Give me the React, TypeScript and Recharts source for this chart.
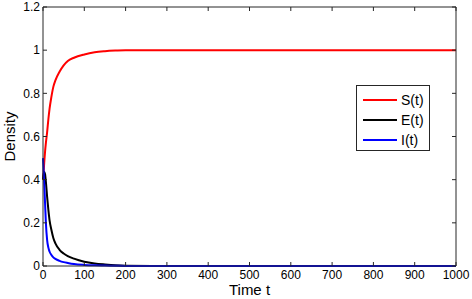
import React from 'react';
import { LineChart, Line, XAxis, YAxis, Legend } from 'recharts';

const timePoints = [0, 1, 2, 3, 5, 7, 10, 13, 16, 20, 25, 30, 40, 50, 60, 75, 100, 125, 150, 175, 200, 300, 400, 500, 600, 700, 800, 900, 1000];
const sValues = [0.40, 0.42, 0.45, 0.48, 0.53, 0.57, 0.62, 0.68, 0.73, 0.78, 0.83, 0.86, 0.90, 0.93, 0.95, 0.965, 0.98, 0.99, 0.995, 0.998, 1.0, 1.0, 1.0, 1.0, 1.0, 1.0, 1.0, 1.0, 1.0];
const eValues = [0.40, 0.42, 0.43, 0.435, 0.425, 0.39, 0.32, 0.26, 0.21, 0.17, 0.13, 0.105, 0.075, 0.058, 0.046, 0.034, 0.02, 0.012, 0.007, 0.003, 0.001, 0, 0, 0, 0, 0, 0, 0, 0];
const iValues = [0.50, 0.46, 0.42, 0.38, 0.29, 0.20, 0.12, 0.085, 0.066, 0.052, 0.04, 0.033, 0.024, 0.018, 0.014, 0.009, 0.005, 0.003, 0.002, 0.001, 0, 0, 0, 0, 0, 0, 0, 0, 0];

const xTicks = [0, 100, 200, 300, 400, 500, 600, 700, 800, 900, 1000];
const yTicks = [0, 0.2, 0.4, 0.6, 0.8, 1, 1.2];
const seriesKeys = ['S', 'E', 'I'];
const seriesNames = ['S(t)', 'E(t)', 'I(t)'];
const seriesColors = ['#ff0000', '#000000', '#0000ff'];

const data = timePoints.map((t, i) => ({ t, S: sValues[i], E: eValues[i], I: iValues[i] }));

const FONT = '"Liberation Sans", Arial, sans-serif';
const AXIS = '#262626';

const LegendBox = () => (
  <div
    style={{
      border: '1px solid #262626',
      background: '#fff',
      width: 72,
      height: 64,
      boxSizing: 'content-box',
      fontFamily: FONT,
      fontSize: 14,
      color: '#000',
      position: 'relative',
    }}
  >
    {seriesNames.map((name, i) => (
      <div
        key={name}
        style={{ position: 'absolute', left: 6, top: 4 + i * 20, height: 20, display: 'flex', alignItems: 'center' }}
      >
        <div style={{ width: 34, height: 2, background: seriesColors[i] }} />
        <span style={{ marginLeft: 4, lineHeight: '20px' }}>{name}</span>
      </div>
    ))}
  </div>
);

export default function App() {
  return (
    <div style={{ position: 'absolute', left: 0, top: 0, width: 472, height: 299, background: '#fff', fontFamily: FONT }}>
      <LineChart width={472} height={299} data={data} margin={{ top: 0, right: 0, bottom: 0, left: 0 }}>
        <XAxis
          dataKey="t"
          type="number"
          domain={[0, 1000]}
          ticks={xTicks}
          height={33}
          tickSize={-4}
          tickMargin={8}
          stroke={AXIS}
          tick={{ fill: '#000', fontSize: 12, fontFamily: FONT }}
          interval={0}
          label={{ value: 'Time t', position: 'insideBottom', offset: 4, fill: '#000', fontSize: 15, fontFamily: FONT }}
        />
        <XAxis
          xAxisId="top"
          orientation="top"
          dataKey="t"
          type="number"
          domain={[0, 1000]}
          ticks={xTicks}
          height={7}
          tickSize={-4}
          stroke={AXIS}
          tickFormatter={() => ''}
          interval={0}
          allowDataOverflow
        />
        <YAxis
          type="number"
          domain={[0, 1.2]}
          ticks={yTicks}
          width={43}
          tickSize={-4}
          tickMargin={7}
          stroke={AXIS}
          tick={{ fill: '#000', fontSize: 12, fontFamily: FONT }}
          interval={0}
          label={{
            value: 'Density',
            angle: -90,
            position: 'insideLeft',
            offset: 10,
            fill: '#000',
            fontSize: 15,
            fontFamily: FONT,
            style: { textAnchor: 'middle' },
          }}
        />
        <YAxis
          yAxisId="right"
          orientation="right"
          type="number"
          domain={[0, 1.2]}
          ticks={yTicks}
          width={16}
          tickSize={-4}
          stroke={AXIS}
          tickFormatter={() => ''}
          interval={0}
          allowDataOverflow
        />
        {seriesKeys.map((k, i) => (
          <Line
            key={k}
            dataKey={k}
            name={seriesNames[i]}
            type="monotone"
            stroke={seriesColors[i]}
            strokeWidth={2}
            dot={false}
            isAnimationActive={false}
          />
        ))}
        <Legend
          layout="vertical"
          align="center"
          verticalAlign="middle"
          content={() => <LegendBox />}
          wrapperStyle={{ left: 356, top: 85, width: 'auto', height: 'auto' }}
        />
      </LineChart>
    </div>
  );
}
